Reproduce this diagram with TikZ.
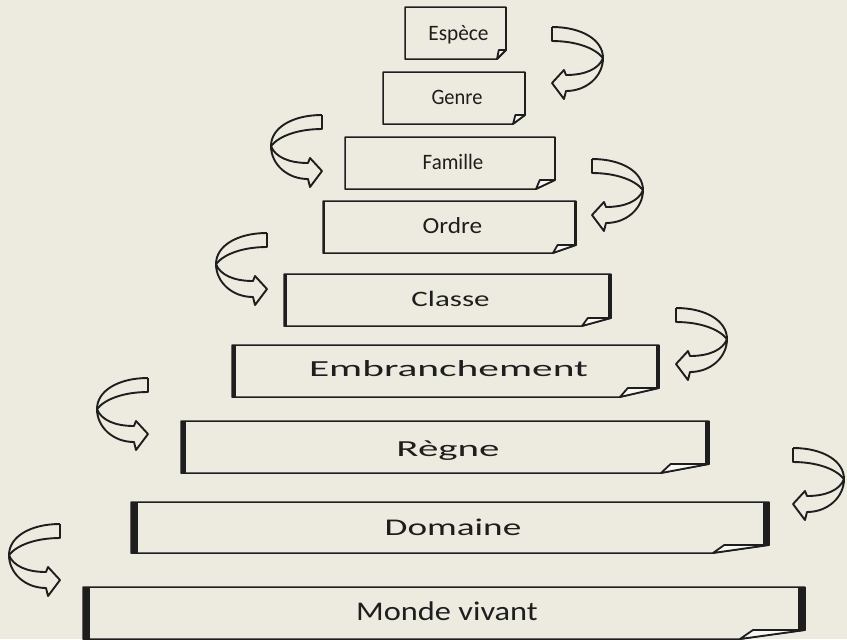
\documentclass[tikz,border=0pt]{standalone}
\usepackage{fontspec}
\setmainfont{Carlito}
\usepackage{tikz}
\definecolor{paper}{RGB}{237,235,224}
\definecolor{ink}{RGB}{30,30,30}

\begin{document}
\begin{tikzpicture}[x=0.5pt, y=-0.5pt, line join=round,
    turn/.pic={
      \draw[ink, line width=0.95pt] (0,0) .. controls (30,0) and (51,13) .. (51,31)
        .. controls (51,49) and (35,64) .. (14,64) -- (12,72) -- (0,56) -- (12,43) -- (14,48)
        .. controls (33,48) and (47,42) .. (51,31);
      \draw[ink, line width=0.95pt] (0,0) -- (0,14) .. controls (22,14) and (42,20) .. (51,31);
    },
    label/.style={inner sep=0pt, text height=0.65em, text depth=0pt, text=ink}]
  \fill[paper, use as bounding box] (0,0) rectangle (847,639);
  % les rangs, du haut vers le bas
  \foreach \l/\t/\r/\b/\w/\f/\g/\name/\txt/\sx/\fs/\dy in {
      405/7/506/59/0.8/9/9/espece/Espèce/0.97/11/1,
      383/72/525/124/0.8/12/9/genre/Genre/0.93/11/0,
      345/137/555/189/1.4/19/9/famille/Famille/0.95/11/0,
      323/201/576/253/2/23/8/ordre/Ordre/1.1/11.5/0,
      284/274/611/326/2.6/29/8/classe/Classe/1.41/11/0,
      232/345/659/397/3.5/39/9/embr/Embranchement/1.8/11.5/-1,
      181/421/709/473/4.5/48/9/regne/Règne/1.78/11.5/3,
      131/502/769/553/6.5/56/8/domaine/Domaine/1.55/12/1,
      83/587/805/639/7/65/9/monde/Monde vivant/1.2/13.5/1}
  {
    \draw[ink, line width=0.75pt] (\l,\t) -- (\r,\t) -- (\r,{\b-\g}) -- ({\r-\f},\b) -- (\l,\b) -- cycle;
    \fill[ink] (\l,\t) rectangle ({\l+\w},\b);
    \fill[ink] ({\r-\w},\t) rectangle (\r,{\b-\g});
    \filldraw[ink, fill=white!60!paper, line width=0.9pt] ({\r-\f},\b) -- ({\r-0.8*\f},{\b-\g}) -- (\r,{\b-\g}) -- cycle;
    \node[label, font=\fontsize{\fs}{\fs}\selectfont, xscale=\sx] (\name) at ({(\l+\r)/2+3},{(\t+\b)/2+\dy}) {\txt};
  }
  % fleches a droite
  \foreach \x/\y in {552/27, 592/159, 676/308, 793/448}
    \pic at (\x,\y) {turn};
  % fleches a gauche
  \foreach \x/\y in {322/115, 267/233, 148/378, 60/524}
    \pic[xscale=-1] at (\x,\y) {turn};
\end{tikzpicture}
\end{document}
